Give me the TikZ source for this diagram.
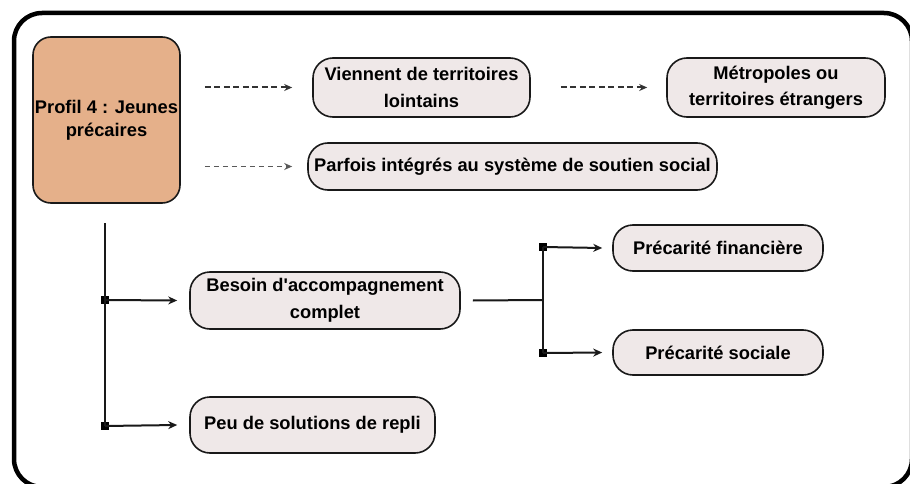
\documentclass[tikz,border=0pt]{standalone}
\usepackage{fontspec}
\setmainfont{Liberation Sans}
\usetikzlibrary{arrows.meta,calc}
\definecolor{tan}{HTML}{E5B08A}
\definecolor{pale}{HTML}{EFE8E8}
\tikzset{
  frame/.style={line width=4.5pt, rounded corners=28pt},
  profbox/.style={draw=black!90, line width=1.6pt, fill=tan, rounded corners=18pt,
    minimum width=147pt, minimum height=166pt, align=center, inner sep=0pt,
    font=\fontsize{18.3}{23}\selectfont\bfseries},
  pill/.style={draw=black!90, line width=1.6pt, fill=pale, rounded corners=20pt,
    align=center, inner sep=0pt, font=\fontsize{18.3}{26.5}\selectfont\bfseries},
  dasharrow/.style={dash pattern=on 6pt off 3.5pt, line width=2pt, black!80, -{Stealth[length=8pt,width=7pt]}},
  dasharrowlight/.style={dash pattern=on 5pt off 4pt, line width=1.4pt, black!65, -{Stealth[length=8pt,width=7pt]}},
  link/.style={line width=2pt, black!90},
  linkarrow/.style={line width=2pt, black!90, -{Stealth[length=9pt,width=8pt]}},
  junction/.style={fill=black, minimum size=7.5pt, inner sep=0pt, draw=none}
}
\begin{document}
\begin{tikzpicture}[x=1pt,y=-1pt]
\useasboundingbox (0,0) rectangle (910,484);
\clip (0,0) rectangle (910,484);
\fill[white] (0,0) rectangle (910,484);
\draw[frame] (14,13) rectangle (912,487);

\node[profbox] (prof) at (106.5,120) {Profil 4 : Jeunes\\précaires};
\node[pill, minimum width=217pt, minimum height=59pt] (vien) at (421.5,87.5) {Viennent de territoires\\lointains};
\node[pill, minimum width=218pt, minimum height=59pt] (metro) at (776,87.5) {Métropoles ou\\territoires étrangers};
\node[pill, minimum width=409pt, minimum height=47pt] (parf) at (512.5,166.5) {Parfois intégrés au système de soutien social};
\node[pill, minimum width=270pt, minimum height=57pt] (besoin) at (325,300.5) {Besoin d\textquotesingle accompagnement\\complet};
\node[pill, minimum width=245pt, minimum height=56pt] (peu) at (312.5,425) {Peu de solutions de repli};
\node[pill, minimum width=210pt, minimum height=46pt] (pfin) at (718,248) {Précarité financière};
\node[pill, minimum width=210pt, minimum height=45pt] (psoc) at (718,352.5) {Précarité sociale};

\draw[dasharrow] ([xshift=24pt]prof.east |- vien.west) -- ([xshift=-20pt]vien.west);
\draw[dasharrowlight] ([xshift=24pt]prof.east |- parf.west) -- ([xshift=-15pt]parf.west);
\draw[dasharrow] ([xshift=30pt]vien.east) -- ([xshift=-19pt]metro.west);

\coordinate (top) at (105,223);
\node[junction] (j1) at (105,300) {};
\node[junction] (j2) at (105,426) {};
\draw[link] (top) -- (j2.center);
\draw[linkarrow] (j1.center) -- ([xshift=-12pt]besoin.west);
\draw[linkarrow] (j2.center) -- ([xshift=-12pt]peu.west);

\coordinate (fork) at (543,300);
\node[junction] (j3) at (543,247) {};
\node[junction] (j4) at (543,353) {};
\draw[link] ([xshift=12pt]besoin.east) -- (fork);
\draw[link] (j3.center) -- (j4.center);
\draw[linkarrow] (j3.center) -- ([xshift=-10pt]pfin.west);
\draw[linkarrow] (j4.center) -- ([xshift=-10pt]psoc.west);
\end{tikzpicture}
\end{document}
